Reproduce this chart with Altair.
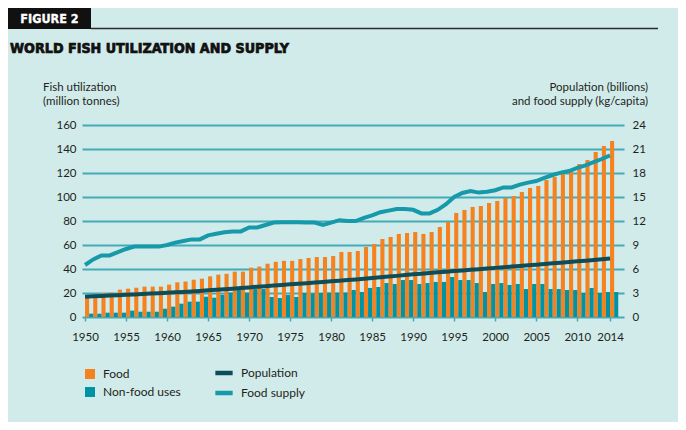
import altair as alt
import pandas as pd

years = list(range(1950, 2015))

food = [17.2, 17.2, 20.0, 20.3, 22.8, 23.6, 24.4, 25.3, 25.3, 25.3,
        27.0, 28.9, 29.6, 31.1, 31.9, 33.9, 35.3, 36.0, 37.8, 37.8,
        41.1, 42.0, 44.4, 46.0, 46.8, 46.8, 48.3, 49.2, 50.0, 50.0,
        50.8, 54.2, 54.2, 55.0, 58.3, 60.8, 65.0, 66.7, 69.2, 70.0,
        70.8, 69.2, 70.8, 75.0, 79.2, 86.7, 89.2, 91.7, 92.5, 95.0,
        96.7, 99.2, 100.8, 104.2, 107.5, 109.2, 114.2, 116.7, 119.2, 123.3,
        127.5, 130.8, 137.5, 142.5, 146.7]

nonfood = [2.8, 2.8, 3.6, 3.6, 3.6, 5.3, 4.4, 4.4, 4.4, 6.9,
           8.6, 11.1, 12.8, 12.8, 16.9, 16.1, 18.5, 20.3, 23.0, 20.3,
           23.3, 23.3, 16.7, 15.8, 18.3, 16.7, 20.0, 19.5, 20.0, 20.3,
           20.3, 20.3, 22.5, 20.8, 24.2, 25.0, 28.3, 27.5, 30.8, 30.8,
           27.5, 28.3, 29.2, 29.2, 33.3, 30.8, 30.8, 28.3, 20.8, 27.5,
           28.3, 26.7, 27.5, 23.3, 27.5, 27.5, 23.3, 23.3, 22.5, 22.5,
           20.0, 24.2, 20.0, 20.8, 20.8]

population = [2.53, 2.58, 2.63, 2.68, 2.73, 2.77, 2.82, 2.87, 2.93, 2.98,
              3.03, 3.08, 3.14, 3.20, 3.26, 3.33, 3.40, 3.47, 3.54, 3.62,
              3.70, 3.78, 3.85, 3.93, 4.01, 4.08, 4.15, 4.23, 4.30, 4.38,
              4.46, 4.54, 4.62, 4.70, 4.79, 4.87, 4.96, 5.05, 5.14, 5.24,
              5.33, 5.41, 5.50, 5.58, 5.66, 5.74, 5.82, 5.90, 5.98, 6.06,
              6.14, 6.22, 6.30, 6.38, 6.46, 6.54, 6.62, 6.71, 6.79, 6.87,
              6.96, 7.04, 7.13, 7.21, 7.30]

food_supply = [6.5, 7.2, 7.7, 7.7, 8.1, 8.5, 8.8, 8.8, 8.8, 8.8,
               9.0, 9.3, 9.5, 9.7, 9.7, 10.2, 10.4, 10.6, 10.7, 10.7,
               11.2, 11.2, 11.5, 11.8, 11.85, 11.85, 11.85, 11.8, 11.8, 11.5,
               11.8, 12.1, 12.0, 12.0, 12.4, 12.7, 13.1, 13.3, 13.5, 13.5,
               13.4, 12.95, 12.95, 13.4, 14.1, 15.0, 15.5, 15.75, 15.55, 15.65,
               15.85, 16.2, 16.2, 16.55, 16.8, 17.0, 17.4, 17.75, 18.05, 18.25,
               18.65, 18.95, 19.35, 19.75, 20.2]

bar_series = ["Food", "Non-food uses"]
line_series = ["Population", "Food supply"]
x_ticks = [1950, 1955, 1960, 1965, 1970, 1975, 1980, 1985, 1990, 1995,
           2000, 2005, 2010, 2014]
left_ticks = list(range(0, 161, 20))
right_ticks = list(range(0, 25, 3))

BG = "#d1ebea"
ORANGE = "#f5821f"
TEAL = "#0093a3"
DARK = "#0d4d59"
LTEAL = "#1699a8"
GRID = "#45aab7"
TEXT = "#231f20"
FONT = "Lato, 'Open Sans', sans-serif"
COND = "'Liberation Sans Narrow', 'DejaVu Sans Condensed', 'Roboto Condensed', sans-serif"

bars_df = pd.DataFrame({
    "year": years * 2,
    "series": [bar_series[0]] * len(years) + [bar_series[1]] * len(years),
    "value": food + nonfood,
})
lines_df = pd.DataFrame({
    "year": years * 2,
    "series": [line_series[0]] * len(years) + [line_series[1]] * len(years),
    "value": population + food_supply,
})

W, H = 542, 192
xscale = alt.Scale(domain=[1949.63, 2015.7], nice=False, zero=False)
xaxis = alt.Axis(values=x_ticks, format="d", title=None, domain=False,
                 grid=False, ticks=True, tickSize=4, tickWidth=1.5,
                 tickColor=GRID, labelPadding=10, labelFontSize=11.5,
                 labelFont=FONT, labelColor=TEXT)

bars = alt.Chart(bars_df).transform_calculate(
    x1="datum.year + (datum.series == 'Food' ? 0 : 0.5)",
    x2="datum.year + (datum.series == 'Food' ? 0.5 : 1.0)",
).mark_bar(strokeWidth=0).encode(
    x=alt.X("x1:Q", scale=xscale, axis=xaxis),
    x2="x2:Q",
    y=alt.Y("value:Q", scale=alt.Scale(domain=[0, 160], nice=False),
            axis=alt.Axis(values=left_ticks, orient="left", title=None,
                          grid=True, gridColor=GRID, gridWidth=2,
                          domain=False, ticks=False, labelPadding=6,
                          labelFontSize=11.5, labelFont=FONT, labelColor=TEXT)),
    y2=alt.datum(0),
    color=alt.Color("series:N",
                    scale=alt.Scale(domain=bar_series, range=[ORANGE, TEAL]),
                    legend=alt.Legend(orient="none", legendX=2, legendY=243,
                                      title=None, symbolType="square",
                                      symbolSize=100, symbolStrokeWidth=0,
                                      labelFontSize=12, labelFont=FONT,
                                      labelColor=TEXT, rowPadding=6,
                                      labelOffset=7, padding=0)),
)

lines = alt.Chart(lines_df).mark_line(strokeWidth=4).encode(
    x=alt.X("year:Q", scale=xscale, axis=xaxis),
    y=alt.Y("value:Q", scale=alt.Scale(domain=[0, 24], nice=False),
            axis=alt.Axis(values=right_ticks, orient="right", title=None,
                          grid=False, domain=False, ticks=False,
                          labelPadding=8, labelFontSize=11.5, labelFont=FONT,
                          labelColor=TEXT)),
    stroke=alt.Stroke("series:N",
                      scale=alt.Scale(domain=line_series, range=[DARK, LTEAL]),
                      legend=alt.Legend(orient="none", legendX=131, legendY=237,
                                        title=None, symbolType="stroke",
                                        symbolSize=300, symbolStrokeWidth=4.5,
                                        labelFontSize=12, labelFont=FONT,
                                        labelColor=TEXT, rowPadding=0,
                                        labelOffset=6, padding=0)),
)

one = pd.DataFrame({"k": [0]})

box = alt.Chart(one).mark_rect(color="#111111").encode(
    x=alt.value(-74), x2=alt.value(9), y=alt.value(-117), y2=alt.value(-96))
rule = alt.Chart(one).mark_rule(color="#2b2b2b", strokeWidth=1.5).encode(
    x=alt.value(9), x2=alt.value(576), y=alt.value(-96.5))

def txt(s, x, y, size=11.5, font=FONT, weight="normal", color=TEXT,
        align="left", baseline="middle", stroke_w=0):
    kw = dict(text=s, fontSize=size, font=font, fontWeight=weight, color=color,
              align=align, baseline=baseline)
    if stroke_w:
        kw.update(stroke=color, strokeWidth=stroke_w)
    return alt.Chart(one).mark_text(**kw).encode(x=alt.value(x), y=alt.value(y))

texts = [
    txt("FIGURE 2", -32.5, -106.5, size=12.5, font=COND, weight="bold",
        color="white", align="center", stroke_w=0.3),
    txt("WORLD FISH UTILIZATION AND SUPPLY", -72, -72, size=14.2, font=COND,
        weight="bold", color="#111111", baseline="alphabetic", stroke_w=0.7),
    txt("Fish utilization", -39, -37),
    txt("(million tonnes)", -39, -23),
    txt("Population (billions)", 566, -37, align="right"),
    txt("and food supply (kg/capita)", 566, -23, align="right"),
]

chart = alt.layer(bars, lines, box, rule, *texts).resolve_scale(
    y="independent"
).properties(
    width=W, height=H, background=BG,
    autosize=alt.AutoSizeParams(type="none"),
    padding={"left": 74, "top": 117, "right": 54, "bottom": 105},
).configure_view(stroke=None)

chart.save("out.html", embed_options={"renderer": "svg", "actions": False})
